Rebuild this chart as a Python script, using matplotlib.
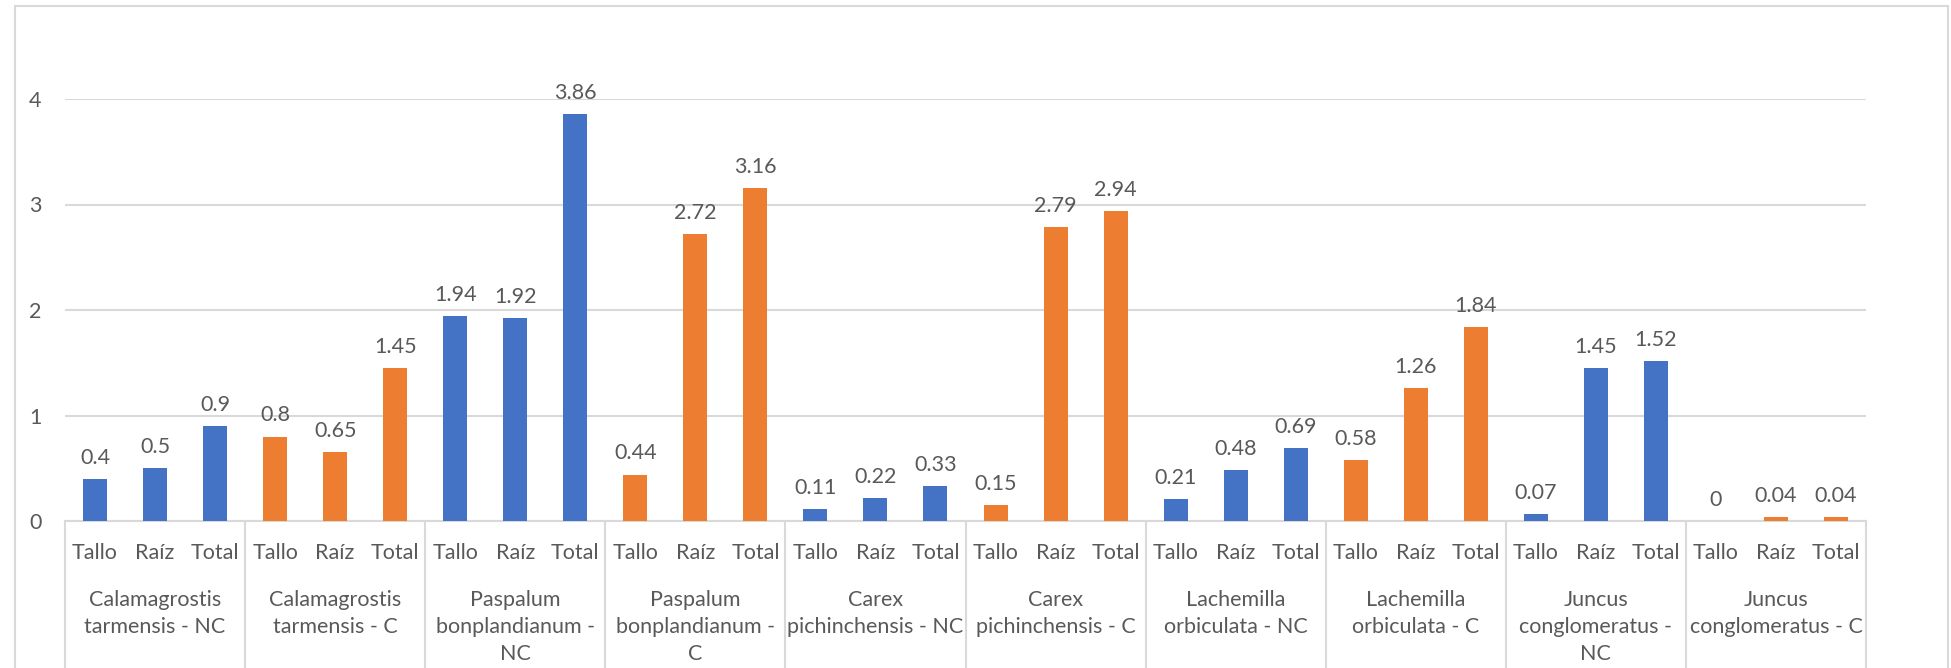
import numpy as np
import matplotlib.pyplot as plt
from matplotlib.patches import Rectangle

plt.rcParams['font.family'] = ['Lato', 'DejaVu Sans']

# data
groups = ['Calamagrostis\ntarmensis - NC', 'Calamagrostis\ntarmensis - C',
          'Paspalum\nbonplandianum -\nNC', 'Paspalum\nbonplandianum -\nC',
          'Carex\npichinchensis - NC', 'Carex\npichinchensis - C',
          'Lachemilla\norbiculata - NC', 'Lachemilla\norbiculata - C',
          'Juncus\nconglomeratus -\nNC', 'Juncus\nconglomeratus - C']
parts = ['Tallo', 'Raíz', 'Total']

tallo = [0.4, 0.8, 1.94, 0.44, 0.11, 0.15, 0.21, 0.58, 0.07, 0]
raiz = [0.5, 0.65, 1.92, 2.72, 0.22, 2.79, 0.48, 1.26, 1.45, 0.04]
total = [0.9, 1.45, 3.86, 3.16, 0.33, 2.94, 0.69, 1.84, 1.52, 0.04]

blue = '#4472C4'
orange = '#ED7D31'
grey = '#D9D9D9'
txt = '#595959'
fs = 15.5

W, H = 1951, 668
fig = plt.figure(figsize=(W / 100, H / 100), dpi=100)
# axes box in pixels: left 65, right 1866, y=0 at 521, y=4 at 99
ax = fig.add_axes([65 / W, (H - 521) / H, 1801 / W, 422 / H])

vals = []
cols = []
for g in range(len(groups)):
    vals += [tallo[g], raiz[g], total[g]]
    cols += [blue if g % 2 == 0 else orange] * 3
x = np.arange(len(vals))

bars = ax.bar(x, vals, width=0.4, color=cols, zorder=3)
ax.bar_label(bars, labels=[f'{v:g}' for v in vals], padding=8,
             fontsize=fs, color=txt)

ax.set_xlim(-0.5, len(vals) - 0.5)
ax.set_ylim(0, 4)
ax.set_yticks([0, 1, 2, 3, 4])
ax.yaxis.grid(True, color=grey, lw=1.5, zorder=0)
ax.tick_params(axis='y', length=0, pad=17, labelsize=fs, labelcolor=txt)
ax.set_xticks([])
for s in ['top', 'right', 'left']:
    ax.spines[s].set_visible(False)
ax.spines['bottom'].set_color(grey)
ax.spines['bottom'].set_linewidth(1.5)

# category axis: sub labels, group labels and separators
px = 1 / 422  # one pixel in axes fraction (vertical)
trans = ax.get_xaxis_transform()
for i in x:
    ax.text(i, -32 * px, parts[i % 3], transform=trans, ha='center',
            va='center', fontsize=fs, color=txt)
for g, name in enumerate(groups):
    for k, line in enumerate(name.split('\n')):
        ax.text(3 * g + 1, -(79 + 27 * k) * px, line, transform=trans,
                ha='center', va='center', fontsize=fs, color=txt)
for b in np.arange(-0.5, len(vals), 3):
    ax.plot([b, b], [0, -160 * px], transform=trans, color=grey, lw=1.5,
            clip_on=False)

# outer chart border
fig.patches.append(Rectangle((15 / W, -0.05), 1933 / W, (H - 6) / H + 0.05,
                             transform=fig.transFigure, fill=False,
                             edgecolor=grey, lw=1.5))

fig.savefig('out.png', dpi=100)
